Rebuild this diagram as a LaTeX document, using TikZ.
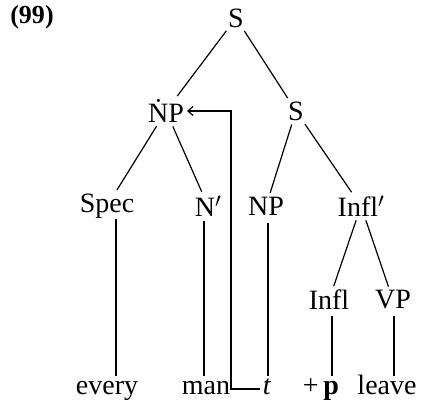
\documentclass[tikz,border=0pt]{standalone}
\usepackage{fontspec}
\setmainfont{Liberation Serif}
\usetikzlibrary{arrows.meta}
\begin{document}
\begin{tikzpicture}[x=1pt,y=-1pt,
  every node/.style={font=\fontsize{28}{32}\selectfont, inner sep=0pt},
  branch/.style={line width=1.2pt, shorten <=4pt, shorten >=4pt},
  stem/.style={line width=1.2pt},
  trace/.style={line width=1.2pt}]
\useasboundingbox (0,0) rectangle (422,407);
% example number
\node[font=\fontsize{26}{30}\selectfont\bfseries] (ex) at (32,17) {(99)};
% tree labels
\node (S) at (236,18) {S};
\node (NP) at (166,111) {\.{N}P};
\node (S2) at (296,111) {S};
\node (Spec) at (107,206) {Spec};
\node (Nbar) at (208,206) {N$'$};
\node (NP2) at (266,206) {NP};
\node (Ibar) at (361,206) {Infl$'$};
\node (Infl) at (329,300) {Infl};
\node (VP) at (393,300) {VP};
% terminals
\node[anchor=base] (every) at (107,394) {every};
\node[anchor=base] (man) at (206,394) {man};
\node[anchor=base] (t) at (267,394) {\textit{t}};
\node[anchor=base] (plusp) at (321,394) {+\,\textbf{p}};
\node[anchor=base] (leave) at (387,394) {leave};
% branches
\draw[branch] (S) -- (NP);
\draw[branch] (S) -- (S2);
\draw[branch] (NP) -- (Spec);
\draw[branch] (NP) -- (Nbar);
\draw[branch] (S2) -- (NP2);
\draw[branch] (S2) -- (Ibar);
\draw[branch] (Ibar) -- (Infl);
\draw[branch] (Ibar) -- (VP);
% unary stems down to the words
\draw[stem] (116,219) -- (116,376);
\draw[stem] (204,221) -- (204,376);
\draw[stem] (268,223) -- (268,376);
\draw[stem] (332,316) -- (332,376);
\draw[stem] (394,316) -- (394,376);
% movement link from the trace back to the raised NP
\coordinate (cb) at (231,389);
\draw[trace, -{Straight Barb[length=5pt,width=9pt]}]
  ([xshift=-3pt]t.west |- cb) -- (cb) -- (cb |- NP.east) -- ([xshift=3pt]NP.east);
\end{tikzpicture}
\end{document}
